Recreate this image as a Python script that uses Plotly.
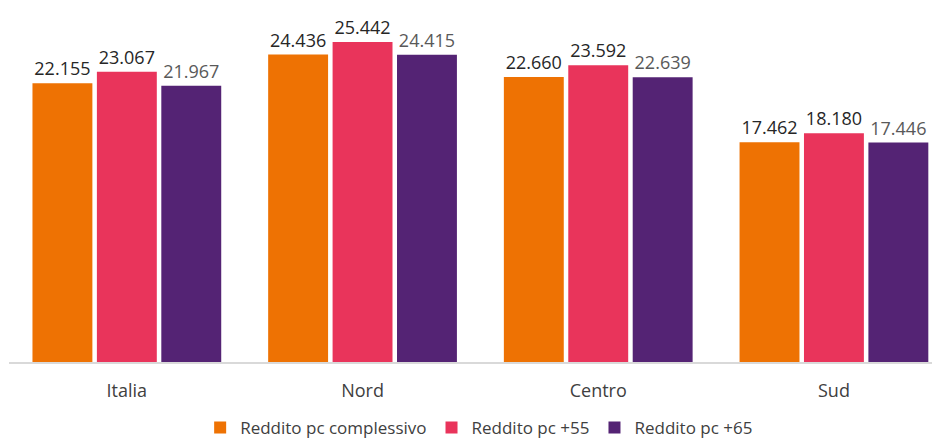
import plotly.graph_objects as go

categories = ["Italia", "Nord", "Centro", "Sud"]
series_names = ["Reddito pc complessivo", "Reddito pc +55", "Reddito pc +65"]
reddito_complessivo = [22155, 24436, 22660, 17462]
reddito_55 = [23067, 25442, 23592, 18180]
reddito_65 = [21967, 24415, 22639, 17446]

colors = ["#EE7203", "#E9345B", "#542374"]
label_colors = ["#262626", "#262626", "#595959"]

fig = go.Figure()
for name, vals, c, lc in zip(series_names, [reddito_complessivo, reddito_55, reddito_65], colors, label_colors):
    fig.add_trace(go.Bar(
        x=categories, y=vals, name=name,
        marker=dict(color=c, line=dict(width=0)),
        texttemplate="%{y:,}", textposition="outside",
        textfont=dict(size=18, color=lc, family="Open Sans"),
        cliponaxis=False,
    ))

# page body has an 8px margin, so the figure is 932x432
fig.update_layout(
    width=932, height=432,
    margin=dict(l=1, r=0, t=0, b=78, autoexpand=False),
    paper_bgcolor="white", plot_bgcolor="white",
    separators=",.",
    barmode="group", bargap=0.18, bargroupgap=0.07,
    font=dict(family="Open Sans", color="#404040"),
    xaxis=dict(range=[-0.5, 3.45], showline=True, linecolor="#D9D9D9", linewidth=1.5,
               ticks="outside", ticklen=12, tickcolor="rgba(0,0,0,0)",
               tickfont=dict(size=18, color="#404040"), showgrid=False, automargin=False),
    yaxis=dict(range=[0, 28140], visible=False, showgrid=False, automargin=False),
    legend=dict(orientation="h", x=0.505, xanchor="center", y=-0.186, yanchor="middle",
                font=dict(size=17, color="#404040"), traceorder="normal",
                itemwidth=30, tracegroupgap=0),
    showlegend=True,
)

fig.write_html("out.html")
